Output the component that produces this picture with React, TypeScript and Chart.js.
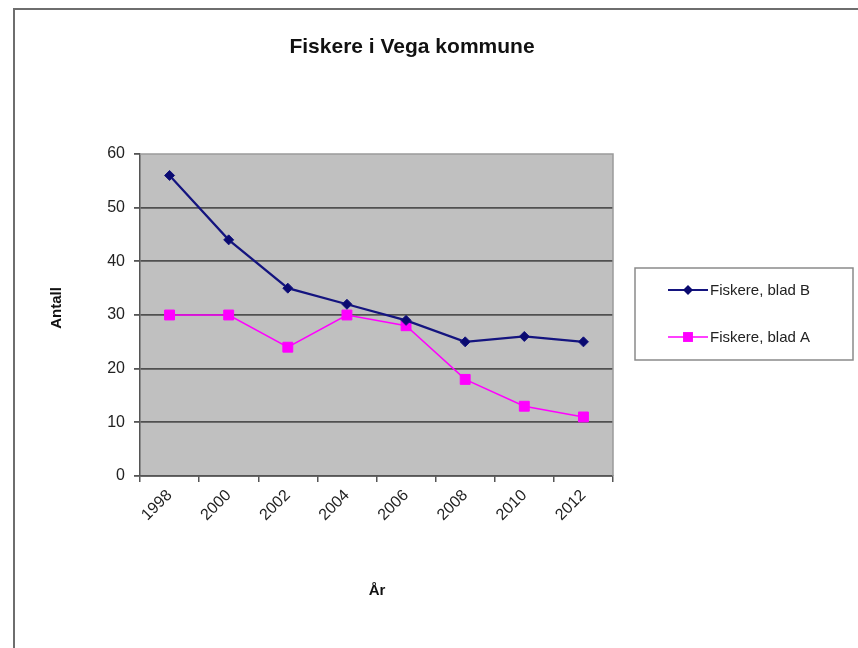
import React, { useEffect, useRef } from "react";
import { Chart, registerables } from "chart.js";

Chart.register(...registerables);

const categories = ["1998", "2000", "2002", "2004", "2006", "2008", "2010", "2012"];
const seriesB = [56, 44, 35, 32, 29, 25, 26, 25];
const seriesA = [30, 30, 24, 30, 28, 18, 13, 11];
const seriesNames = ["Fiskere, blad B", "Fiskere, blad A"];
const yTicks = [0, 10, 20, 30, 40, 50, 60];
const chartTitle = "Fiskere i Vega kommune";
const xTitle = "År";
const yTitle = "Antall";

const FONT = "'Liberation Sans', Arial, Helvetica, sans-serif";

const decor = {
  id: "decor",
  beforeDraw(chart: any) {
    const { ctx, chartArea: a } = chart;
    ctx.save();
    ctx.fillStyle = "#ffffff";
    ctx.fillRect(0, 0, chart.width, chart.height);
    // outer frame
    ctx.strokeStyle = "#6e6e6e";
    ctx.lineWidth = 2;
    ctx.strokeRect(14, 9, chart.width + 20, chart.height + 20);
    // plot background
    ctx.fillStyle = "#C0C0C0";
    ctx.fillRect(a.left, a.top, a.right - a.left, a.bottom - a.top);
    ctx.restore();
  },
  afterDraw(chart: any) {
    const { ctx, chartArea: a } = chart;
    ctx.save();
    // plot border top/right
    ctx.strokeStyle = "#9a9a9a";
    ctx.lineWidth = 1.5;
    ctx.beginPath();
    ctx.moveTo(a.left, a.top);
    ctx.lineTo(a.right, a.top);
    ctx.lineTo(a.right, a.bottom);
    ctx.stroke();

    // title
    ctx.fillStyle = "#111";
    ctx.textAlign = "center";
    ctx.textBaseline = "middle";
    ctx.font = `bold 21px ${FONT}`;
    ctx.fillText(chartTitle, 412, 47);

    // axis titles
    ctx.font = `bold 15px ${FONT}`;
    ctx.fillText(xTitle, 377, 591);
    ctx.save();
    ctx.translate(57, 308);
    ctx.rotate(-Math.PI / 2);
    ctx.fillText(yTitle, 0, 0);
    ctx.restore();

    // legend box
    ctx.strokeStyle = "#8a8a8a";
    ctx.lineWidth = 1.5;
    ctx.strokeRect(635, 268, 218, 92);
    const rows = [290, 337];
    chart.data.datasets.forEach((ds: any, i: number) => {
      const y = rows[i];
      ctx.strokeStyle = ds.borderColor;
      ctx.fillStyle = ds.backgroundColor;
      ctx.lineWidth = ds.borderWidth;
      ctx.beginPath();
      ctx.moveTo(668, y);
      ctx.lineTo(708, y);
      ctx.stroke();
      const cx = 688;
      const r = ds.pointRadius;
      ctx.beginPath();
      if (ds.pointStyle === "rectRot") {
        ctx.moveTo(cx - r, y);
        ctx.lineTo(cx, y - r);
        ctx.lineTo(cx + r, y);
        ctx.lineTo(cx, y + r);
        ctx.closePath();
      } else {
        const s = r * Math.SQRT1_2;
        ctx.rect(cx - s, y - s, 2 * s, 2 * s);
      }
      ctx.fill();
      ctx.fillStyle = "#222";
      ctx.font = `15px ${FONT}`;
      ctx.textAlign = "left";
      ctx.textBaseline = "middle";
      ctx.fillText(ds.label, 710, y + 1);
    });
    ctx.restore();
  },
};

export default function App() {
  const ref = useRef<HTMLCanvasElement>(null);
  useEffect(() => {
    const canvas = ref.current!;
    Chart.defaults.font.family = FONT;
    const chart = new Chart(canvas, {
      type: "line",
      data: {
        labels: categories,
        datasets: [
          {
            label: seriesNames[0],
            data: seriesB,
            borderColor: "#14147f",
            backgroundColor: "#0a0a70",
            borderWidth: 2.2,
            pointStyle: "rectRot",
            pointRadius: 5,
            pointBorderWidth: 1,
            tension: 0,
          },
          {
            label: seriesNames[1],
            data: seriesA,
            borderColor: "#FF00FF",
            backgroundColor: "#FF00FF",
            borderWidth: 1.5,
            pointStyle: "rect",
            pointRadius: 7,
            pointBorderWidth: 1,
            tension: 0,
          },
        ],
      },
      options: {
        responsive: false,
        maintainAspectRatio: false,
        animation: false,
        devicePixelRatio: 1,
        layout: { padding: { left: 0, top: 154, right: 245, bottom: 0 } },
        plugins: {
          legend: { display: false },
          title: { display: false },
          tooltip: { enabled: false },
        },
        scales: {
          x: {
            type: "category",
            offset: true,
            grid: {
              display: true,
              drawOnChartArea: false,
              drawTicks: true,
              tickLength: 6,
              tickColor: "#555",
              offset: true,
              lineWidth: 1.5,
            },
            border: { display: true, color: "#555", width: 1.5 },
            ticks: {
              font: { size: 16 },
              color: "#222",
              minRotation: 45,
              maxRotation: 45,
              autoSkip: false,
              padding: 4,
            },
            afterFit: (s: any) => {
              s.height = 172;
            },
          },
          y: {
            min: 0,
            max: 60,
            ticks: { font: { size: 16 }, color: "#222", padding: 9 },
            afterBuildTicks: (s: any) => {
              s.ticks = yTicks.map((v) => ({ value: v }));
            },
            grid: {
              color: (c: any) => (c.tick && c.tick.value === 60 ? "rgba(0,0,0,0)" : "#505050"),
              lineWidth: 1.8,
              tickLength: 6,
              tickColor: "#555",
            },
            border: { display: true, color: "#555", width: 1.5 },
            afterFit: (s: any) => {
              s.width = 140;
            },
          },
        },
      },
      plugins: [decor],
    } as any);
    return () => chart.destroy();
  }, []);
  return (
    <div style={{ position: "absolute", left: 0, top: 0, width: 858, height: 648, background: "#fff" }}>
      <canvas ref={ref} width={858} height={648} style={{ display: "block", width: 858, height: 648 }} />
    </div>
  );
}
